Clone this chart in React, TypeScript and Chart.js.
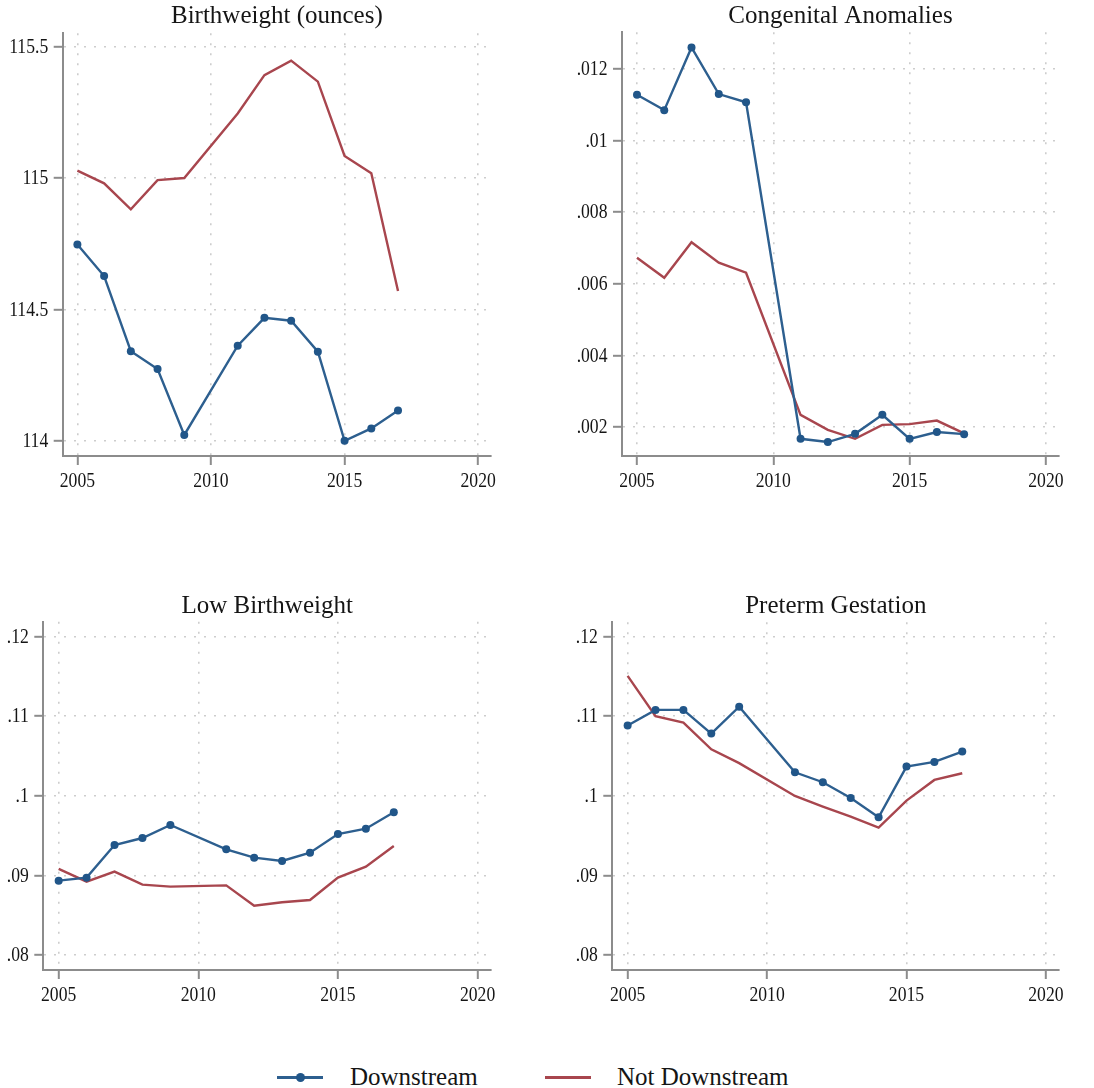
import React, { useEffect, useRef } from "react";
import { Chart, registerables } from "chart.js";

Chart.register(...registerables);

// ---------------- data ----------------
const YEARS = [2005, 2006, 2007, 2008, 2009, 2011, 2012, 2013, 2014, 2015, 2016, 2017];

const BW_DOWN = [114.747, 114.627, 114.341, 114.273, 114.022, 114.362, 114.468, 114.457, 114.339, 114.0, 114.047, 114.115];
const BW_NOT = [115.028, 114.98, 114.881, 114.992, 115.0, 115.246, 115.392, 115.447, 115.367, 115.084, 115.018, 114.57];

const CA_DOWN = [0.01128, 0.01085, 0.0126, 0.0113, 0.01107, 0.00167, 0.00158, 0.00181, 0.00234, 0.00167, 0.00186, 0.0018];
const CA_NOT = [0.00673, 0.00617, 0.00716, 0.00659, 0.00631, 0.00234, 0.00192, 0.00167, 0.00206, 0.00208, 0.00218, 0.00182];

const LBW_DOWN = [0.08934, 0.08972, 0.09382, 0.0947, 0.09634, 0.09328, 0.09223, 0.09181, 0.09286, 0.0952, 0.09587, 0.09793];
const LBW_NOT = [0.09081, 0.08921, 0.09047, 0.08884, 0.08859, 0.08875, 0.0862, 0.08662, 0.08691, 0.08972, 0.0911, 0.0937];

const PT_DOWN = [0.10882, 0.11079, 0.11079, 0.10781, 0.1112, 0.10295, 0.1017, 0.09973, 0.0973, 0.10367, 0.10425, 0.10555];
const PT_NOT = [0.11506, 0.11, 0.10919, 0.10584, 0.1041, 0.09998, 0.09864, 0.09738, 0.096, 0.09939, 0.10199, 0.10283];

const X_TICKS = [2005, 2010, 2015, 2020];
const X_LABELS = ["2005", "2010", "2015", "2020"];
const BW_TICKS = [114, 114.5, 115, 115.5];
const BW_LABELS = ["114", "114.5", "115", "115.5"];
const CA_TICKS = [0.002, 0.004, 0.006, 0.008, 0.01, 0.012];
const CA_LABELS = [".002", ".004", ".006", ".008", ".01", ".012"];
const RATE_TICKS = [0.08, 0.09, 0.1, 0.11, 0.12];
const RATE_LABELS = [".08", ".09", ".1", ".11", ".12"];

const SERIES_NAMES = ["Downstream", "Not Downstream"];
const TITLES = ["Birthweight (ounces)", "Congenital Anomalies", "Low Birthweight", "Preterm Gestation"];

// ---------------- style ----------------
const FONT = "'Liberation Serif', 'Times New Roman', serif";
const BLUE = "#2d5f8f";
const BLUE_MARK = "#215689";
const RED = "#a8464e";
const AXIS = "#8c8c8c";
const GRID = "#cdcdcd";
const TEXT = "#151515";
const X_MIN = 2004.45;
const X_MAX = 2020.48;
const TICK_SIZE = 20.5;
const TICK_SQUEEZE = 0.86;

const titlePlugin = {
  id: "panelTitle",
  afterDraw(chart: any, _args: any, opts: any) {
    const { ctx, chartArea } = chart;
    ctx.save();
    ctx.font = `25px ${FONT}`;
    ctx.fillStyle = TEXT;
    ctx.textAlign = "center";
    ctx.textBaseline = "alphabetic";
    ctx.fillText(opts.text, (chartArea.left + chartArea.right) / 2, opts.y);
    ctx.restore();
  },
};

function drawSqueezed(ctx: CanvasRenderingContext2D, s: string, x: number, y: number) {
  ctx.save();
  ctx.translate(x, y);
  ctx.scale(TICK_SQUEEZE, 1);
  ctx.fillText(s, 0, 0);
  ctx.restore();
}

const tickLabelPlugin = {
  id: "tickText",
  afterDraw(chart: any, _args: any, opts: any) {
    const { ctx, chartArea } = chart;
    const xs = chart.scales.x;
    const ys = chart.scales.y;
    ctx.save();
    ctx.font = `${TICK_SIZE}px ${FONT}`;
    ctx.fillStyle = TEXT;
    ctx.textBaseline = "middle";
    ctx.textAlign = "center";
    X_TICKS.forEach((v, i) => drawSqueezed(ctx, X_LABELS[i], xs.getPixelForValue(v), chartArea.bottom + 26));
    ctx.textAlign = "right";
    (opts.ticks as number[]).forEach((v, i) =>
      drawSqueezed(ctx, opts.labels[i], chartArea.left - 14.5, ys.getPixelForValue(v) + 0.8)
    );
    ctx.restore();
  },
};

type PanelProps = {
  title: string;
  down: number[];
  not: number[];
  yTicks: number[];
  yLabels: string[];
  yMin: number;
  yMax: number;
  left: number;
  top: number;
  width: number;
  height: number;
  areaLeft: number;
  areaRight: number;
  areaTop: number;
  areaBottom: number;
  titleY: number;
};

function Panel(p: PanelProps) {
  const ref = useRef<HTMLCanvasElement>(null);
  useEffect(() => {
    if (!ref.current) return;
    const gridOpts = {
      color: GRID,
      lineWidth: 1.6,
      tickColor: AXIS,
      tickWidth: 2,
      tickLength: 9,
    };
    const chart = new Chart(ref.current, {
      type: "line",
      data: {
        datasets: [
          {
            label: SERIES_NAMES[0],
            data: YEARS.map((x, i) => ({ x, y: p.down[i] })),
            borderColor: BLUE,
            backgroundColor: BLUE_MARK,
            borderWidth: 2.4,
            pointRadius: 4,
            pointBackgroundColor: BLUE_MARK,
            pointBorderWidth: 0,
            tension: 0,
          },
          {
            label: SERIES_NAMES[1],
            data: YEARS.map((x, i) => ({ x, y: p.not[i] })),
            borderColor: RED,
            backgroundColor: RED,
            borderWidth: 2.4,
            pointRadius: 0,
            tension: 0,
          },
        ],
      },
      options: {
        responsive: false,
        animation: false,
        maintainAspectRatio: false,
        layout: {
          padding: { left: 0, top: p.areaTop, right: p.width - p.areaRight, bottom: 0 },
        },
        plugins: {
          legend: { display: false },
          tooltip: { enabled: false },
          panelTitle: { text: p.title, y: p.titleY },
          tickText: { ticks: p.yTicks, labels: p.yLabels },
        } as any,
        scales: {
          x: {
            type: "linear",
            min: X_MIN,
            max: X_MAX,
            afterBuildTicks: (a: any) => {
              a.ticks = X_TICKS.map((v) => ({ value: v }));
            },
            afterFit: (a: any) => {
              a.height = p.height - p.areaBottom;
            },
            ticks: { display: false, autoSkip: false },
            grid: gridOpts,
            border: { color: AXIS, width: 2, dash: [2, 8] },
          },
          y: {
            type: "linear",
            min: p.yMin,
            max: p.yMax,
            afterBuildTicks: (a: any) => {
              a.ticks = p.yTicks.map((v) => ({ value: v }));
            },
            afterFit: (a: any) => {
              a.width = p.areaLeft;
            },
            ticks: { display: false, autoSkip: false },
            grid: gridOpts,
            border: { color: AXIS, width: 2, dash: [2, 8] },
          },
        },
      } as any,
      plugins: [titlePlugin as any, tickLabelPlugin as any],
    });
    return () => chart.destroy();
  }, []);
  return (
    <canvas
      ref={ref}
      width={p.width}
      height={p.height}
      style={{ position: "absolute", left: p.left, top: p.top, width: p.width, height: p.height }}
    />
  );
}

function Legend() {
  const text: React.CSSProperties = {
    position: "absolute",
    top: 1064,
    fontFamily: FONT,
    fontSize: 25,
    lineHeight: "25px",
    color: TEXT,
    whiteSpace: "nowrap",
  };
  return (
    <>
      <div style={{ position: "absolute", left: 277, top: 1075.5, width: 46, height: 3, background: BLUE }} />
      <div
        style={{
          position: "absolute",
          left: 295.5,
          top: 1072.5,
          width: 9,
          height: 9,
          borderRadius: "50%",
          background: BLUE_MARK,
        }}
      />
      <div style={{ ...text, left: 350 }}>{SERIES_NAMES[0]}</div>
      <div style={{ position: "absolute", left: 545, top: 1075.5, width: 46, height: 3, background: RED }} />
      <div style={{ ...text, left: 617 }}>{SERIES_NAMES[1]}</div>
    </>
  );
}

export default function App() {
  return (
    <div
      style={{
        position: "absolute",
        left: 0,
        top: 0,
        width: 1094,
        height: 1088,
        background: "#fff",
        overflow: "hidden",
      }}
    >
      <Panel
        title={TITLES[0]}
        down={BW_DOWN}
        not={BW_NOT}
        yTicks={BW_TICKS}
        yLabels={BW_LABELS}
        yMin={113.942}
        yMax={115.551}
        left={0}
        top={0}
        width={547}
        height={520}
        areaLeft={62.7}
        areaRight={491}
        areaTop={33.3}
        areaBottom={456}
        titleY={23.3}
      />
      <Panel
        title={TITLES[1]}
        down={CA_DOWN}
        not={CA_NOT}
        yTicks={CA_TICKS}
        yLabels={CA_LABELS}
        yMin={0.00119}
        yMax={0.013025}
        left={547}
        top={0}
        width={547}
        height={520}
        areaLeft={75}
        areaRight={512}
        areaTop={32.3}
        areaBottom={456}
        titleY={23.3}
      />
      <Panel
        title={TITLES[2]}
        down={LBW_DOWN}
        not={LBW_NOT}
        yTicks={RATE_TICKS}
        yLabels={RATE_LABELS}
        yMin={0.07811}
        yMax={0.12189}
        left={0}
        top={560}
        width={547}
        height={480}
        areaLeft={43.3}
        areaRight={491}
        areaTop={61.7}
        areaBottom={410}
        titleY={53.3}
      />
      <Panel
        title={TITLES[3]}
        down={PT_DOWN}
        not={PT_NOT}
        yTicks={RATE_TICKS}
        yLabels={RATE_LABELS}
        yMin={0.0781}
        yMax={0.1218}
        left={547}
        top={560}
        width={547}
        height={480}
        areaLeft={65.3}
        areaRight={512.3}
        areaTop={62.3}
        areaBottom={410}
        titleY={53.3}
      />
      <Legend />
    </div>
  );
}
